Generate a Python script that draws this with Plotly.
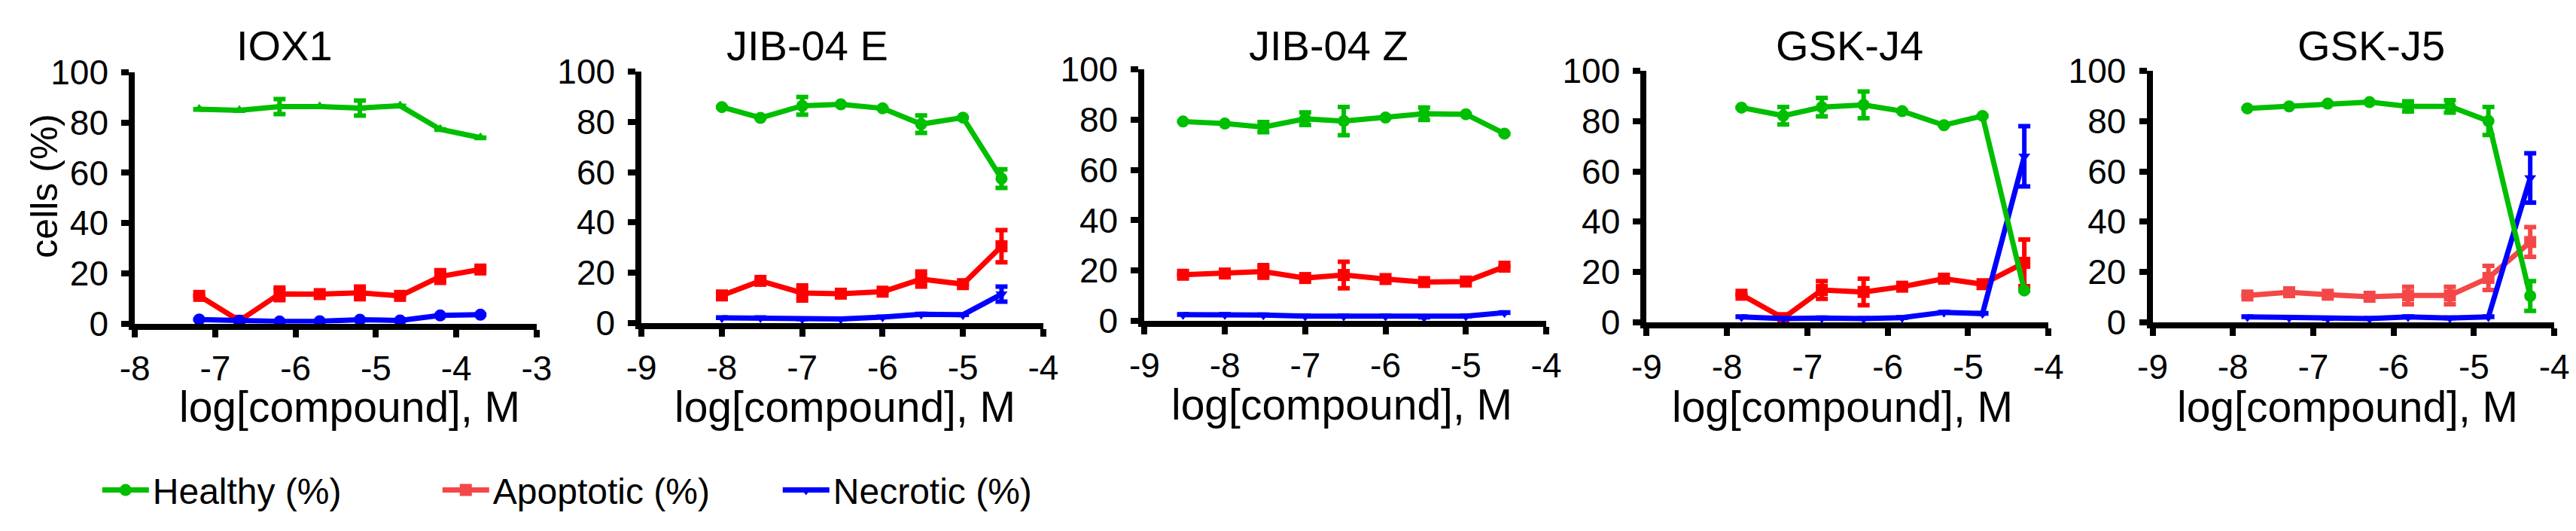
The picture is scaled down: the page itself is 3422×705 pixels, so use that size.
import plotly.graph_objects as go

W, H = 3422, 705
FONT = "Liberation Sans, Arial, Helvetica, sans-serif"

GREEN = "#00BE00"
RED = "#FF0000"
RED_LIGHT = "#F44848"
BLUE = "#0000FF"

# ---- data ----
titles = ["IOX1", "JIB-04 E", "JIB-04 Z", "GSK-J4", "GSK-J5"]

iox1_x = [-7.2, -6.7, -6.2, -5.7, -5.2, -4.7, -4.2, -3.7]
iox1_healthy = [85.3, 84.9, 86.4, 86.4, 85.8, 86.7, 77.3, 74.0]
iox1_healthy_err = [None, None, 3, None, 3, None, None, None]
iox1_apoptotic = [11.0, 1.1, 11.8, 11.7, 12.2, 11.0, 18.7, 21.5]
iox1_apoptotic_err = [None, None, 2.5, None, 2.5, None, 2.5, None]
iox1_necrotic = [1.6, 1.1, 0.8, 0.9, 1.5, 1.2, 3.2, 3.5]
iox1_necrotic_err = [None] * 8

jibe_x = [-8.0, -7.52, -7.0, -6.52, -6.0, -5.52, -5.0, -4.52]
jibe_healthy = [85.9, 81.6, 86.4, 87.0, 85.4, 79.1, 81.7, 57.4]
jibe_healthy_err = [None, None, 3.5, None, None, 3.5, None, 3.7]
jibe_apoptotic = [10.9, 16.7, 11.9, 11.6, 12.4, 17.4, 15.4, 30.5]
jibe_apoptotic_err = [None, None, 3, None, None, 3, None, 6.4]
jibe_necrotic = [2.0, 2.0, 1.5, 1.5, 2.3, 3.4, 3.2, 11.4]
jibe_necrotic_err = [None, None, None, None, None, None, None, 3]

jibz_x = [-8.52, -8.0, -7.52, -7.0, -6.52, -6.0, -5.52, -5.0, -4.52]
jibz_healthy = [79.3, 78.5, 77.1, 80.4, 79.5, 80.9, 82.4, 82.2, 74.5]
jibz_healthy_err = [None, None, 2, 2.5, 5.6, None, 2.5, None, None]
jibz_apoptotic = [18.3, 18.8, 19.6, 17.0, 18.2, 16.6, 15.4, 15.6, 21.5]
jibz_apoptotic_err = [None, None, 2.5, None, 5.3, None, None, None, None]
jibz_necrotic = [2.4, 2.4, 2.3, 1.8, 1.8, 1.8, 1.4, 1.8, 3.2]
jibz_necrotic_err = [None] * 9

gskj4_x = [-7.82, -7.3, -6.82, -6.3, -5.82, -5.3, -4.82, -4.3]
gskj4_healthy = [85.4, 82.2, 85.6, 86.5, 84.0, 78.4, 82.1, 12.6]
gskj4_healthy_err = [None, 3.5, 3.7, 5.3, None, None, None, None]
gskj4_apoptotic = [10.9, 1.6, 12.8, 12.0, 14.1, 17.3, 15.1, 23.6]
gskj4_apoptotic_err = [None, None, 3.5, 5.3, None, None, None, 9.3]
gskj4_necrotic = [2.1, 1.4, 1.6, 1.4, 1.8, 3.9, 3.4, 66.0]
gskj4_necrotic_err = [None, None, None, None, None, None, None, 12]

gskj5_x = [-7.82, -7.3, -6.82, -6.3, -5.82, -5.3, -4.82, -4.3]
gskj5_healthy = [85.1, 85.9, 87.0, 87.6, 85.9, 85.9, 80.1, 10.4]
gskj5_healthy_err = [None, None, None, None, 2, 2.5, 5.6, 5.9]
gskj5_apoptotic = [10.6, 11.9, 10.9, 10.1, 10.6, 10.6, 17.6, 31.9]
gskj5_apoptotic_err = [None, None, None, None, 3.5, 3.5, 4.8, 5.9]
gskj5_necrotic = [2.1, 1.8, 1.4, 1.4, 2.1, 1.6, 2.1, 57.4]
gskj5_necrotic_err = [None, None, None, None, None, None, None, 9.8]

x_ranges = [[-8, -3], [-9, -4], [-9, -4], [-9, -4], [-9, -4]]
y_ticks = [0, 20, 40, 60, 80, 100]

panels = [
    (iox1_x, iox1_healthy, iox1_healthy_err, iox1_apoptotic, iox1_apoptotic_err, iox1_necrotic, iox1_necrotic_err),
    (jibe_x, jibe_healthy, jibe_healthy_err, jibe_apoptotic, jibe_apoptotic_err, jibe_necrotic, jibe_necrotic_err),
    (jibz_x, jibz_healthy, jibz_healthy_err, jibz_apoptotic, jibz_apoptotic_err, jibz_necrotic, jibz_necrotic_err),
    (gskj4_x, gskj4_healthy, gskj4_healthy_err, gskj4_apoptotic, gskj4_apoptotic_err, gskj4_necrotic, gskj4_necrotic_err),
    (gskj5_x, gskj5_healthy, gskj5_healthy_err, gskj5_apoptotic, gskj5_apoptotic_err, gskj5_necrotic, gskj5_necrotic_err),
]

# marker symbols differ in the first panel
healthy_symbols = ["triangle-up", "circle", "circle", "circle", "circle"]
necrotic_symbols = ["circle", "triangle-down", "triangle-down", "triangle-down", "triangle-down"]
apoptotic_colors = [RED, RED, RED, RED, RED_LIGHT]

# ---- layout geometry (pixels) ----
x_left = [153, 834, 1510, 2185, 2865]
plot_w = 540
y_top = [67, 66, 63, 65, 65]
y_bot = [427, 426, 423, 425, 425]
title_cx = [354, 1057, 1758, 2458, 3159]
xtitle_cx = [442, 1107, 1775, 2448, 3127]


def px(x):
    return x / W


def py(y):
    return 1 - y / H


fig = go.Figure()


def err(arr, color):
    return dict(type="data", array=arr, visible=True, color=color, thickness=6, width=8)


def sym_size(s):
    # triangles look bigger than squares/circles at the same size
    return 14 if s.startswith("triangle") else 16


for i, (xs, hv, he, av, ae, nv, ne) in enumerate(panels):
    ax = "" if i == 0 else str(i + 1)
    legend_on = (i == 4)
    # apoptotic first, then necrotic, healthy on top
    fig.add_trace(go.Scatter(
        x=xs, y=av, mode="lines+markers", name="Apoptotic (%)",
        line=dict(color=apoptotic_colors[i], width=7),
        marker=dict(symbol="square", size=16, color=apoptotic_colors[i]),
        error_y=err(ae, apoptotic_colors[i]), cliponaxis=False,
        xaxis="x" + ax, yaxis="y" + ax, showlegend=legend_on, legendrank=2))
    fig.add_trace(go.Scatter(
        x=xs, y=nv, mode="lines+markers", name="Necrotic (%)",
        line=dict(color=BLUE, width=7),
        marker=dict(symbol=necrotic_symbols[i], size=sym_size(necrotic_symbols[i]), color=BLUE),
        error_y=err(ne, BLUE), cliponaxis=False,
        xaxis="x" + ax, yaxis="y" + ax, showlegend=legend_on, legendrank=3))
    fig.add_trace(go.Scatter(
        x=xs, y=hv, mode="lines+markers", name="Healthy (%)",
        line=dict(color=GREEN, width=7),
        marker=dict(symbol=healthy_symbols[i], size=sym_size(healthy_symbols[i]), color=GREEN),
        error_y=err(he, GREEN), cliponaxis=False,
        xaxis="x" + ax, yaxis="y" + ax, showlegend=legend_on, legendrank=1))

axis_style = dict(
    showline=True, linecolor="black", linewidth=8, mirror=False,
    ticks="outside", ticklen=10, tickwidth=8, tickcolor="black",
    showgrid=False, zeroline=False, fixedrange=True,
    tickfont=dict(family=FONT, size=46, color="black"),
)

layout = dict(
    width=W, height=H, margin=dict(l=0, r=0, t=0, b=0),
    plot_bgcolor="white", paper_bgcolor="white",
    font=dict(family=FONT, color="black"),
    legend=dict(
        orientation="h", x=px(104), y=py(666), xanchor="left", yanchor="middle",
        font=dict(family=FONT, size=48, color="black"),
        entrywidth=375, entrywidthmode="pixels", itemwidth=62,
        bgcolor="rgba(0,0,0,0)", traceorder="normal",
    ),
)

annotations = []
for i in range(5):
    ax = "" if i == 0 else str(i + 1)
    xt = list(range(x_ranges[i][0], x_ranges[i][1] + 1))
    layout["xaxis" + ax] = dict(
        axis_style, domain=[px(x_left[i]), px(x_left[i] + plot_w)],
        range=x_ranges[i], tickvals=xt, ticktext=[str(v) for v in xt],
        ticklabelstandoff=2, anchor="y" + ax)
    layout["yaxis" + ax] = dict(
        axis_style, domain=[py(y_bot[i]), py(y_top[i])],
        range=[0, 100], tickvals=y_ticks, ticktext=[str(v) for v in y_ticks],
        ticklabelstandoff=8, anchor="x" + ax)
    annotations.append(dict(
        text=titles[i], x=px(title_cx[i]), y=py(29), xref="paper", yref="paper",
        xanchor="center", yanchor="middle", showarrow=False,
        font=dict(family=FONT, size=56, color="black")))
    annotations.append(dict(
        text="log[compound], M", x=px(xtitle_cx[i]), y=py(546 - (3 if i == 2 else 0)),
        xref="paper", yref="paper", xanchor="center", yanchor="middle",
        showarrow=False, font=dict(family=FONT, size=57, color="black")))

annotations.append(dict(
    text="cells (%)", x=px(31), y=py(230), xref="paper", yref="paper",
    xanchor="center", yanchor="middle", textangle=-90, showarrow=False,
    font=dict(family=FONT, size=50, color="black")))

layout["annotations"] = annotations
fig.update_layout(layout)

fig.write_html("out.html")
